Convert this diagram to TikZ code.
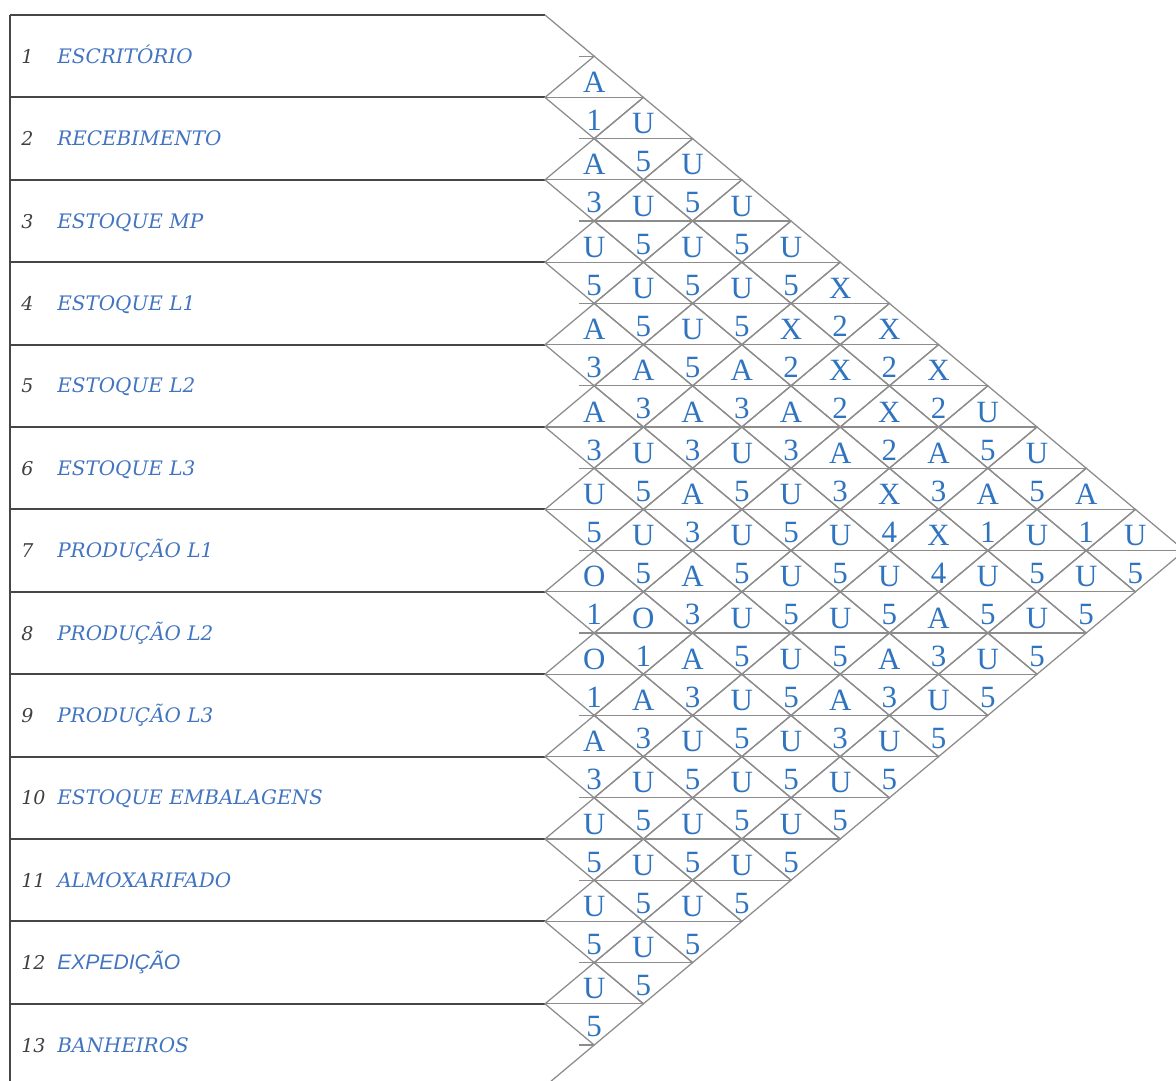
\documentclass[tikz,border=0pt]{standalone}
\usepackage{xcolor}
\usepackage{fontspec}
\setmainfont{Liberation Serif}
\newfontfamily\deptfont{DejaVu Serif}
\newfontfamily\deptsans{Liberation Sans}
\usepackage{tikz}
\definecolor{cellblue}{RGB}{48,116,192}
\definecolor{deptblue}{RGB}{66,116,192}
\definecolor{gridgray}{RGB}{140,140,140}
\definecolor{boxgray}{RGB}{70,70,70}
\newcommand{\W}{49.2}

\tikzset{
  boxline/.style={draw=boxgray, line width=1.4pt},
  gridline/.style={draw=gridgray, line width=0.9pt},
  celltxt/.style={font=\fontsize{22}{22}\selectfont, text=cellblue, anchor=base, inner sep=0pt},
  deptnum/.style={font=\deptfont\itshape\fontsize{13.5}{13.5}\selectfont, text=black!75, anchor=base west, inner sep=0pt},
  deptname/.style={font=\deptfont\itshape\fontsize{14.2}{14.2}\selectfont, text=deptblue, anchor=base west, inner sep=0pt}
}

\begin{document}
\begin{tikzpicture}[x=0.025cm, y=-0.025cm]
\useasboundingbox (0,0) rectangle (1176,1080);
\clip (0,0) rectangle (1176,1080);
% department column
\draw[boxline] (10,15) -- (10,1095);
\foreach \k in {0,...,13}{
  \draw[boxline] (10,15+82.4*\k) -- (545,15+82.4*\k);
}
\foreach \k/\dept in {1/ESCRITÓRIO, 2/RECEBIMENTO, 3/ESTOQUE MP, 4/ESTOQUE L1, 5/ESTOQUE L2, 6/ESTOQUE L3, 7/PRODUÇÃO L1, 8/PRODUÇÃO L2, 9/PRODUÇÃO L3, 10/ESTOQUE EMBALAGENS, 11/ALMOXARIFADO, 13/BANHEIROS}{
  \node[deptnum] (num-\k) at (21, 63.2+82.4*\k-82.4) {\k};
  \node[deptname] (dept-\k) at (57, 63.2+82.4*\k-82.4) {\dept};
}
\node[deptnum] (num-12) at (21, 969.6) {12};
\node[deptname, font=\deptsans\itshape\fontsize{15}{15}\selectfont] (dept-12) at (57, 969.6) {EXPEDIÇÃO};
% relationship diamonds: i/j/closeness/reason
\draw[gridline] (545,15) -- (545+\W,56.2);
\draw[gridline] (545+\W,1045) -- (545,1086.2);
\foreach \i/\j/\t/\b in {
  1/2/A/1, 1/3/U/5, 1/4/U/5, 1/5/U/5, 1/6/U/5, 1/7/X/2, 1/8/X/2, 1/9/X/2, 1/10/U/5, 1/11/U/5, 1/12/A/1, 1/13/U/5,
  2/3/A/3, 2/4/U/5, 2/5/U/5, 2/6/U/5, 2/7/X/2, 2/8/X/2, 2/9/X/2, 2/10/A/3, 2/11/A/1, 2/12/U/5, 2/13/U/5,
  3/4/U/5, 3/5/U/5, 3/6/U/5, 3/7/A/3, 3/8/A/3, 3/9/A/3, 3/10/X/4, 3/11/X/4, 3/12/U/5, 3/13/U/5,
  4/5/A/3, 4/6/A/3, 4/7/A/3, 4/8/U/5, 4/9/U/5, 4/10/U/5, 4/11/U/5, 4/12/A/3, 4/13/U/5,
  5/6/A/3, 5/7/U/5, 5/8/A/3, 5/9/U/5, 5/10/U/5, 5/11/U/5, 5/12/A/3, 5/13/U/5,
  6/7/U/5, 6/8/U/5, 6/9/A/3, 6/10/U/5, 6/11/U/5, 6/12/A/3, 6/13/U/5,
  7/8/O/1, 7/9/O/1, 7/10/A/3, 7/11/U/5, 7/12/U/5, 7/13/U/5,
  8/9/O/1, 8/10/A/3, 8/11/U/5, 8/12/U/5, 8/13/U/5,
  9/10/A/3, 9/11/U/5, 9/12/U/5, 9/13/U/5,
  10/11/U/5, 10/12/U/5, 10/13/U/5,
  11/12/U/5, 11/13/U/5,
  12/13/U/5}{
  \pgfmathsetmacro\cx{545+\W*(\j-\i)}
  \pgfmathsetmacro\cy{15+41.2*(\i+\j-1)}
  \draw[gridline] (\cx-\W,\cy) -- (\cx,\cy-41.2) -- (\cx+\W,\cy) -- (\cx,\cy+41.2) -- cycle;
  \node[celltxt] (top-\i-\j) at (\cx,\cy-5) {\t};
  \node[celltxt] (bot-\i-\j) at (\cx,\cy+33) {\b};
}
% split lines through each level
\foreach \L in {1,...,25}{
  \pgfmathsetmacro\yl{15+41.2*\L}
  \pgfmathsetmacro\dmax{min(\L-1,25-\L)}
  \pgfmathsetmacro\xl{isodd(\L) ? 545+\W-15 : 545}
  \pgfmathsetmacro\xr{545+\W*(\dmax+1)}
  \draw[gridline] (\xl,\yl) -- (\xr,\yl);
}
\end{tikzpicture}
\end{document}
